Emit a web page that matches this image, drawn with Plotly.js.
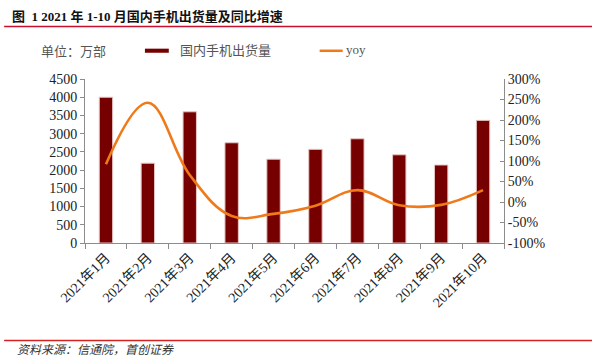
<!DOCTYPE html>
<html>
<head>
<meta charset="utf-8">
<script src="https://cdn.plot.ly/plotly-3.0.1.min.js"></script>
<style>html,body{margin:0;padding:0;background:#fff;}#chart{width:600px;height:360px;}</style>
</head>
<body>
<div id="chart"></div>
<script>
const categories = ["2021年1月","2021年2月","2021年3月","2021年4月","2021年5月","2021年6月","2021年7月","2021年8月","2021年9月","2021年10月"];
const shipments = [4000, 2190, 3600, 2750, 2300, 2570, 2860, 2420, 2140, 3365];
const yoy = [92, 242, 66, -34, -29, -9, 29, -8, -7, 29];
const barName = "国内手机出货量";
const lineName = "yoy";
const yoyTickVals = [-100, -50, 0, 50, 100, 150, 200, 250, 300];
const yoyTickText = ["-100%", "-50%", "0%", "50%", "100%", "150%", "200%", "250%", "300%"];

const serif = "'Liberation Serif', 'Noto Sans CJK SC', serif";
const axisColor = "#8c8c8c";

const traces = [
  {type: "bar", x: categories, y: shipments, name: barName, yaxis: "y",
   marker: {color: "#760000", line: {color: "#e6c6c6", width: 1}}, showlegend: false},
  {type: "scatter", mode: "lines", x: categories, y: yoy, name: lineName, yaxis: "y2",
   line: {color: "#f07a1a", width: 2.6, shape: "spline", smoothing: 1.1}, showlegend: false}
];

const layout = {
  width: 600, height: 360,
  margin: {l: 85, r: 96, t: 79, b: 117},
  paper_bgcolor: "#fff", plot_bgcolor: "#fff",
  bargap: 0.68,
  font: {family: serif, size: 14, color: "#222"},
  xaxis: {
    type: "category", tickangle: -45, showgrid: false, zeroline: false,
    showline: true, linecolor: axisColor, linewidth: 1,
    ticks: "outside", ticklen: 5, tickcolor: axisColor, tickson: "boundaries",
    tickfont: {family: serif, size: 14, color: "#222"}
  },
  yaxis: {
    range: [0, 4500], dtick: 500, showgrid: false, zeroline: false,
    showline: true, linecolor: axisColor, linewidth: 1,
    ticks: "outside", ticklen: 4, tickcolor: axisColor,
    tickfont: {family: serif, size: 14, color: "#222"}
  },
  yaxis2: {
    overlaying: "y", side: "right", range: [-100, 300],
    tickmode: "array", tickvals: yoyTickVals, ticktext: yoyTickText,
    showgrid: false, zeroline: false,
    showline: true, linecolor: axisColor, linewidth: 1,
    ticks: "inside", ticklen: 4, tickcolor: axisColor,
    tickfont: {family: serif, size: 14, color: "#222"}
  },
  shapes: [
    {type: "line", xref: "paper", yref: "paper", x0: -0.193, x1: 1.21, y0: 1.32, y1: 1.32,
     line: {color: "#c8102e", width: 1.5}},
    {type: "line", xref: "paper", yref: "paper", x0: -0.193, x1: 1.21, y0: -0.594, y1: -0.594,
     line: {color: "#d62020", width: 1.5}},
    {type: "rect", xref: "paper", yref: "paper", x0: 0.143, x1: 0.2, y0: 1.16, y1: 1.185,
     fillcolor: "#760000", line: {width: 0}},
    {type: "line", xref: "paper", yref: "paper", x0: 0.56, x1: 0.615, y0: 1.172, y1: 1.172,
     line: {color: "#f07a1a", width: 2.5}}
  ],
  annotations: [
    {xref: "paper", yref: "paper", x: -0.18, y: 1.384, xanchor: "left", yanchor: "middle", showarrow: false,
     text: "图  1 2021 年 1-10 月国内手机出货量及同比增速", font: {family: serif, size: 13, color: "#111", weight: 600}},
    {xref: "paper", yref: "paper", x: -0.11, y: 1.17, xanchor: "left", yanchor: "middle", showarrow: false,
     text: "单位：万部", font: {family: serif, size: 13, color: "#555"}},
    {xref: "paper", yref: "paper", x: 0.222, y: 1.175, xanchor: "left", yanchor: "middle", showarrow: false,
     text: barName, font: {family: serif, size: 13, color: "#555"}},
    {xref: "paper", yref: "paper", x: 0.617, y: 1.18, xanchor: "left", yanchor: "middle", showarrow: false,
     text: lineName, font: {family: serif, size: 13, color: "#555"}},
    {xref: "paper", yref: "paper", x: -0.167, y: -0.652, xanchor: "left", yanchor: "middle", showarrow: false,
     text: "<i>资料来源：信通院，首创证券</i>", font: {family: serif, size: 12, color: "#333"}}
  ]
};

Plotly.newPlot("chart", traces, layout, {displayModeBar: false, staticPlot: true});
</script>
</body>
</html>
